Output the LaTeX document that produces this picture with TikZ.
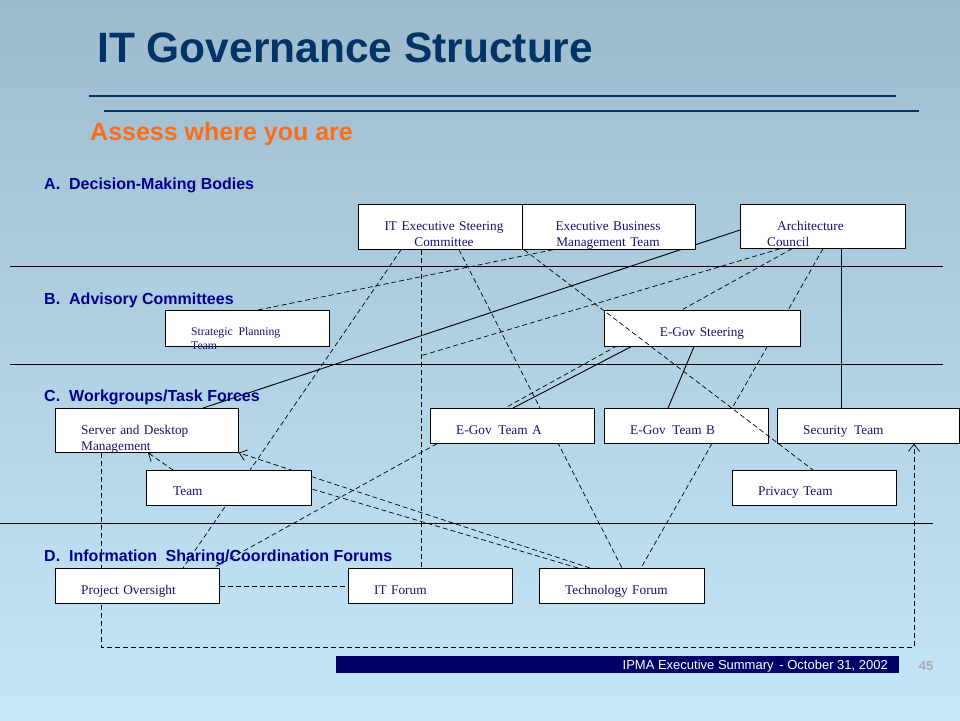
\documentclass[tikz,border=0pt]{standalone}
\usepackage{fontspec}
\setmainfont{Liberation Serif}
\setsansfont{Liberation Sans}
\usetikzlibrary{arrows.meta}
\usetikzlibrary{calc}

\definecolor{slideTop}{RGB}{158,187,206}
\definecolor{slideBottom}{RGB}{197,231,249}
\definecolor{titleBlue}{RGB}{0,51,102}
\definecolor{secBlue}{RGB}{0,0,139}
\definecolor{boxText}{RGB}{20,20,110}
\definecolor{assessOrange}{RGB}{248,110,25}
\definecolor{footBlue}{RGB}{0,0,102}
\definecolor{pageGray}{RGB}{165,172,178}

\newcommand{\boxfont}{\rmfamily\fontsize{13.3}{16}\selectfont}

\pgfdeclarelayer{bg}
\pgfdeclarelayer{links}
\pgfsetlayers{bg,links,main}

\begin{document}
\begin{tikzpicture}[x=1pt,y=-1pt,
    unit/.style={draw,fill=white,anchor=north west,inner sep=0pt,line width=0.75pt},
    tag/.style={anchor=base west,inner sep=0pt,text=boxText,font=\boxfont,align=left,text width=150pt},
    sect/.style={anchor=base west,inner sep=0pt,text=secBlue,font=\sffamily\bfseries\fontsize{16}{19}\selectfont},
    link/.style={line width=0.7pt,dash pattern=on 5pt off 3pt},
    tie/.style={line width=0.9pt},
    >={Straight Barb[length=7pt,width=11pt]}]

  \useasboundingbox (0,0) rectangle (960,720);

  \begin{pgfonlayer}{bg}
    \shade [top color=slideTop,bottom color=slideBottom] (0,0) rectangle (960,720);
    \draw [titleBlue,line width=2.2pt] (89,96) -- (896,96);
    \draw [titleBlue,line width=2.2pt] (104,111) -- (919,111);
    \draw [line width=1pt] (10,266) -- (943,266);
    \draw [line width=1pt] (10,364) -- (943,364);
    \draw [line width=1pt] (0,523) -- (933,523);
  \end{pgfonlayer}

  % headings
  \node [anchor=base west,inner sep=0pt,text=titleBlue,font=\sffamily\bfseries\fontsize{42.5}{50}\selectfont] (title) at (97,62) {IT Governance Structure};
  \node [anchor=base west,inner sep=0pt,text=assessOrange,font=\sffamily\bfseries\fontsize{25}{29}\selectfont] (assess) at (90,140) {Assess where you are};

  \node [sect] (secA) at (44,189) {A.\hspace{9pt}Decision-Making Bodies};
  \node [sect] (secB) at (44,304) {B.\hspace{9pt}Advisory Committees};
  \node [sect] (secC) at (44,401) {C.\hspace{9pt}Workgroups/Task Forces};
  \node [sect] (secD) at (44,561) {D.\hspace{9pt}Information\hspace{4pt} Sharing/Coordination Forums};

  % decision-making bodies
  \node [unit,minimum width=164pt,minimum height=45pt] (ITsteer) at (358,204) {};
  \node [unit,minimum width=173pt,minimum height=45pt] (EBmgmt) at (522,204) {};
  \node [unit,minimum width=165pt,minimum height=44pt] (Arch) at (740,204) {};

  % advisory committees
  \node [unit,minimum width=164pt,minimum height=36pt] (SPlan) at (165,310) {};
  \node [unit,minimum width=196pt,minimum height=36pt] (EGsteer) at (604,310) {};

  % workgroups / task forces
  \node [unit,minimum width=183pt,minimum height=44pt] (SDmgmt) at (55,408) {};
  \node [unit,minimum width=164pt,minimum height=35pt] (EGa) at (430,408) {};
  \node [unit,minimum width=164pt,minimum height=35pt] (EGb) at (604,408) {};
  \node [unit,minimum width=182pt,minimum height=35pt] (Sec) at (777,408) {};
  \node [unit,minimum width=165pt,minimum height=35pt] (Team) at (146,470) {};
  \node [unit,minimum width=164pt,minimum height=35pt] (Priv) at (732,470) {};

  % forums
  \node [unit,minimum width=164pt,minimum height=35pt] (POver) at (55,568) {};
  \node [unit,minimum width=164pt,minimum height=35pt] (ITforum) at (348,568) {};
  \node [unit,minimum width=165pt,minimum height=35pt] (TechForum) at (539,568) {};

  % box texts
  \node [tag,anchor=base,align=center] (ITsteer_t) at ($(ITsteer.north west)+(86,26)$) {IT Executive Steering\\Committee};
  \node [tag,anchor=base,align=center] (EBmgmt_t) at ($(EBmgmt.north west)+(86,26)$) {Executive Business\\Management Team};
  \node [tag] (Arch_t) at ($(Arch.north west)+(27,26)$) {\hspace*{10pt}Architecture\\Council};
  \node [tag,font=\rmfamily\fontsize{11.7}{14}\selectfont] (SPlan_t) at ($(SPlan.north west)+(26,25)$) {Strategic\, Planning\\Team};
  \node [tag,anchor=base,align=center] (EGsteer_t) at ($(EGsteer.north west)+(98,26)$) {E-Gov Steering};
  \node [tag] (SDmgmt_t) at ($(SDmgmt.north west)+(26,26)$) {Server and Desktop\\Management};
  \node [tag] (EGa_t) at ($(EGa.north west)+(26,26)$) {E-Gov\, Team A};
  \node [tag] (EGb_t) at ($(EGb.north west)+(26,26)$) {E-Gov\, Team B};
  \node [tag] (Sec_t) at ($(Sec.north west)+(26,26)$) {Security\, Team};
  \node [tag] (Team_t) at ($(Team.north west)+(27,25)$) {Team};
  \node [tag] (Priv_t) at ($(Priv.north west)+(26,25)$) {Privacy Team};
  \node [tag] (POver_t) at ($(POver.north west)+(26,26)$) {Project Oversight};
  \node [tag] (ITforum_t) at ($(ITforum.north west)+(26,26)$) {IT Forum};
  \node [tag] (TechForum_t) at ($(TechForum.north west)+(26,26)$) {Technology Forum};

  \coordinate (ITjoin) at ($(ITsteer.south west)+(63,106)$);
  \coordinate (loopTurn) at (914,647);

  \begin{pgfonlayer}{links}
    \path [draw,tie]
      ($(Arch.north west)+(0,26)$) edge ($(SDmgmt.north west)+(148,0)$)
      ($(Arch.south west)+(101,0)$) edge ($(Sec.north west)+(64,0)$)
      ($(EGsteer.south west)+(27,0)$) edge ($(EGa.north west)+(83,0)$)
      ($(EGsteer.south west)+(90,0)$) edge ($(EGb.north west)+(64,0)$);

    \path [draw,link]
      ($(ITsteer.south west)+(43,0)$) edge ($(POver.north west)+(128,0)$)
      ($(ITsteer.south west)+(63,0)$) edge ($(ITforum.north west)+(73,0)$)
      ($(ITsteer.south west)+(101,0)$) edge ($(TechForum.north west)+(83,0)$)
      ($(EBmgmt.south west)+(31,0)$) edge ($(SPlan.north west)+(93,0)$)
      ($(Arch.south west)+(40,0)$) edge (ITjoin)
      ($(Arch.south west)+(52,0)$) edge ($(EGa.north west)+(75,0)$)
      ($(Arch.south west)+(83,0)$) edge ($(TechForum.north west)+(102,0)$)
      ($(EGa.south west)+(7,0)$) edge ($(POver.north west)+(158,0)$)
      ($(TechForum.north west)+(39,0)$) edge ($(Team.north east)+(0,19)$)
      (POver.east) edge (ITforum.west);

    \path [draw,link,->]
      ($(TechForum.north west)+(51,0)$) edge (SDmgmt.south east)
      ($(Team.north west)+(27,0)$) edge ($(SDmgmt.south west)+(93,0)$);

    \draw [link,->] ($(SDmgmt.south west)+(46,0)$) |- (loopTurn) -- ($(Sec.south west)+(137,0)$);
  \end{pgfonlayer}

  \draw [link] ($(EBmgmt.south west)+(2,0)$) -- ($(Priv.north west)+(81,0)$);

  % footer
  \node [unit,draw=none,fill=footBlue,minimum width=563pt,minimum height=17pt] (footBar) at (336,656) {};
  \node [anchor=base east,inner sep=0pt,text=white,font=\sffamily\fontsize{13}{15}\selectfont] (footText) at (888,669) {IPMA Executive Summary\, - October 31, 2002};
  \node [anchor=base,inner sep=0pt,text=pageGray,font=\sffamily\bfseries\fontsize{13}{15}\selectfont] (pageNo) at (926,670) {45};

\end{tikzpicture}
\end{document}
